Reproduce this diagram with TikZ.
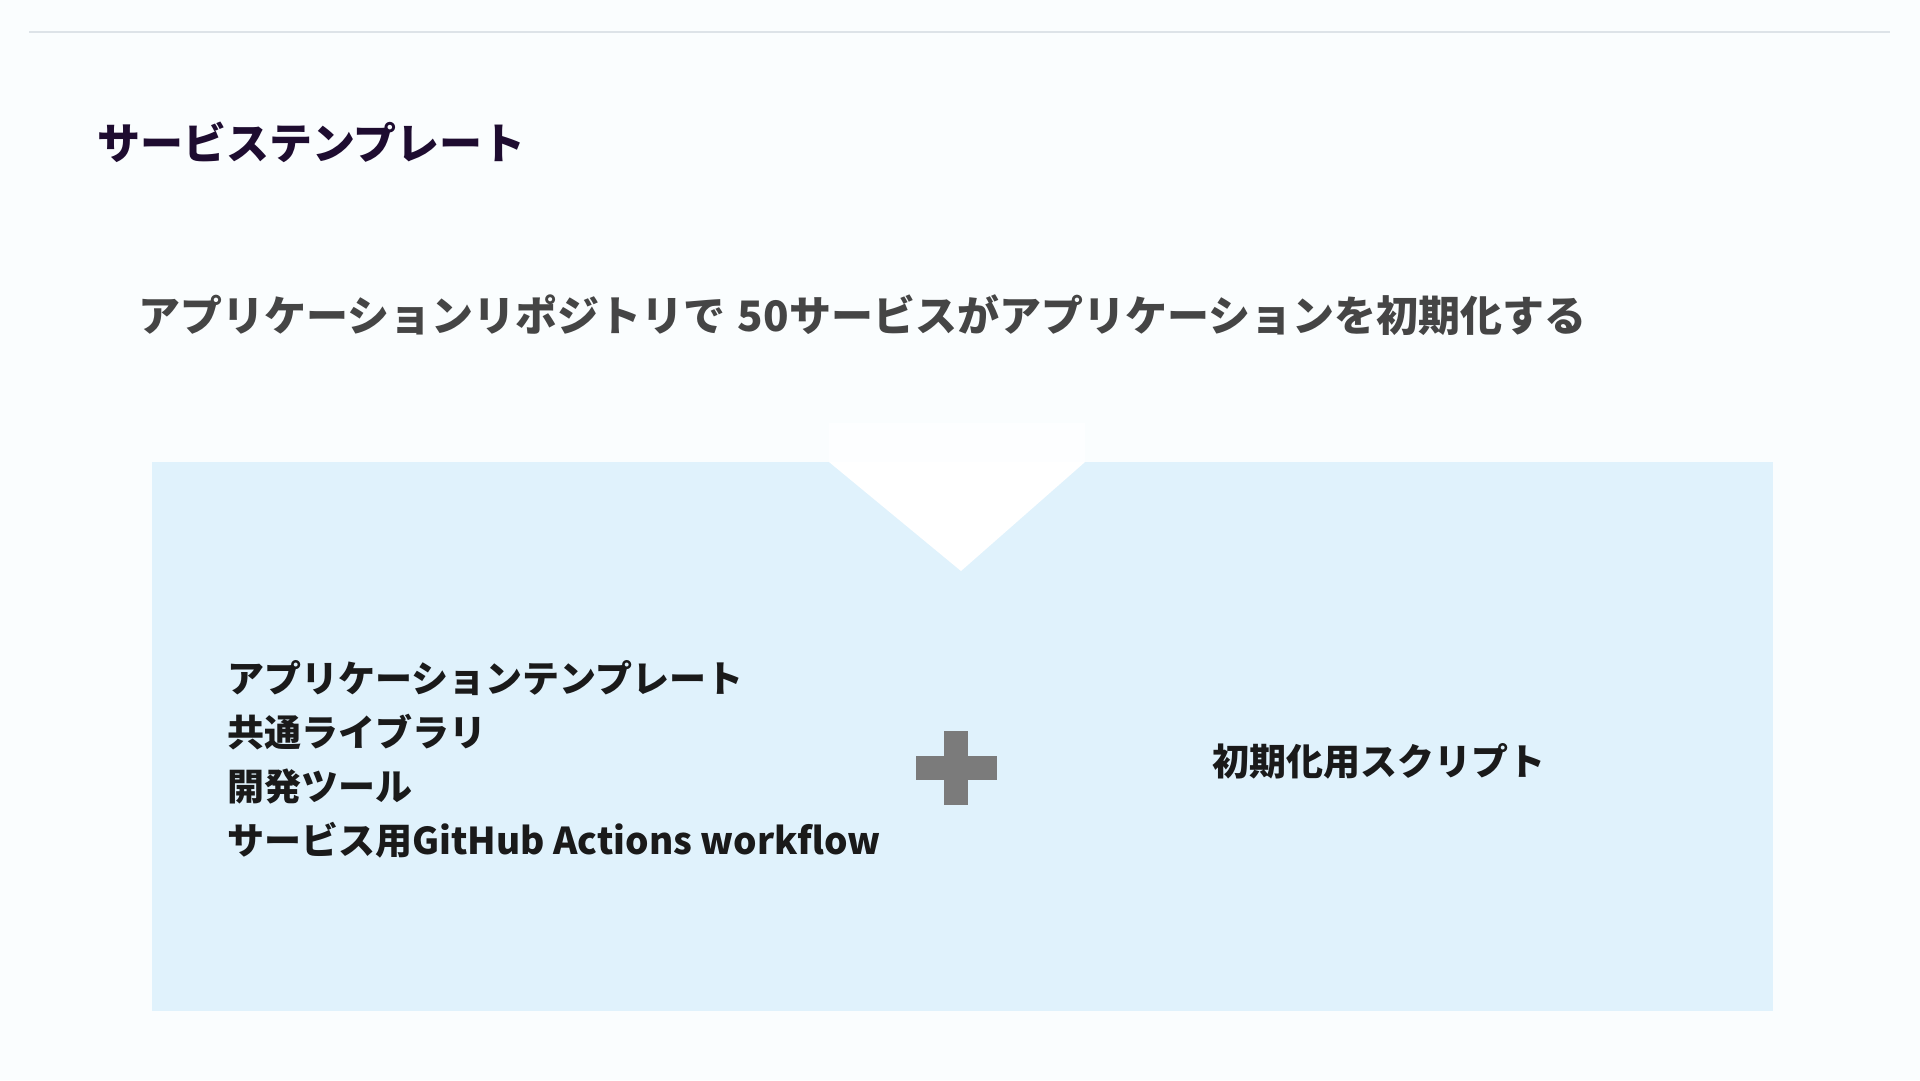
\documentclass[tikz,border=0pt]{standalone}
\usepackage{fontspec}
\setmainfont{Noto Sans CJK JP}
\usetikzlibrary{positioning}

\definecolor{pagebg}{HTML}{FAFDFE}
\definecolor{notchtop}{HTML}{FDFEFF}
\definecolor{rulegray}{HTML}{DDE3E8}
\definecolor{titleink}{HTML}{1E0C30}
\definecolor{leadink}{HTML}{454545}
\definecolor{bodyink}{HTML}{1A1A1A}
\definecolor{panelblue}{HTML}{E0F2FC}
\definecolor{plusgray}{HTML}{7B7B7B}

\begin{document}
\begin{tikzpicture}[x=1pt,y=-1pt,
  item/.style={inner sep=0pt, anchor=base west, text=bodyink,
    font=\bfseries\fontsize{37}{44}\selectfont}]
\useasboundingbox (0,0) rectangle (1920,1080);
\fill[pagebg] (0,0) rectangle (1920,1080);
\draw[rulegray, line width=1.5pt] (29,32) -- (1890,32);

\node[inner sep=0pt, anchor=base west, text=titleink,
  font=\bfseries\fontsize{43}{52}\selectfont] (title) at (97,159) {サービステンプレート};
\node[inner sep=0pt, anchor=base west, text=leadink,
  font=\bfseries\fontsize{42}{50}\selectfont] (lead) at (138,331)
  {アプリケーションリポジトリで\hspace{3pt} 50サービスがアプリケーションを初期化する};

% panel with the down notch
\fill[panelblue] (152,462) rectangle (1773,1011);
\fill[notchtop] (829,423) rectangle (1085,462);
\fill[white] (829,462) -- (1085,462) -- (961,571) -- cycle;

\node[item] (tmpl) at (227,692) {アプリケーションテンプレート};
\node[item] (lib) at (227,746) {共通ライブラリ};
\node[item] (tool) at (227,800) {開発ツール};
\node[item] (wf) at (227,854) {サービス用GitHub Actions workflow};

\fill[plusgray] (916,756) rectangle (997,780);
\fill[plusgray] (944,731) rectangle (968,805);

\node[item] (init) at (1212,775) {初期化用スクリプト};
\end{tikzpicture}
\end{document}
